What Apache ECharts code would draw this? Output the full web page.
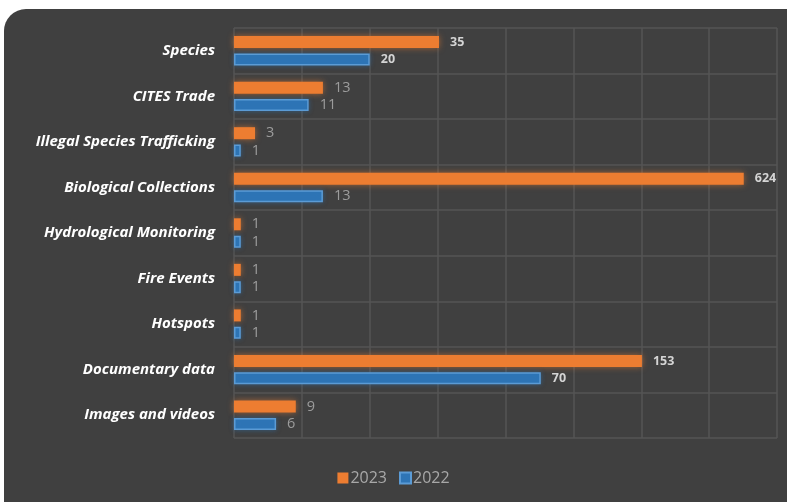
<!DOCTYPE html>
<html>
<head>
<meta charset="utf-8">
<style>
  html, body { margin: 0; padding: 0; background: #ffffff; }
  #chart { width: 787px; height: 502px; }
</style>
<script src="https://cdn.jsdelivr.net/npm/echarts@6/dist/echarts.min.js"></script>
</head>
<body>
<div id="chart"></div>
<script>
// Categories, top to bottom
const categories = [
  'Species', 'CITES Trade', 'Illegal Species Trafficking', 'Biological Collections',
  'Hydrological Monitoring', 'Fire Events', 'Hotspots', 'Documentary data', 'Images and videos'
];
const seriesNames = ['2023', '2022'];
// Values printed on the bars
const values2023 = [35, 13, 3, 624, 1, 1, 1, 153, 9];
const values2022 = [20, 11, 1, 13, 1, 1, 1, 70, 6];
// Bar lengths as drawn in the picture, in gridline units (axis is unlabelled, non-proportional)
const drawn2023 = [3.02, 1.31, 0.31, 7.51, 0.10, 0.10, 0.10, 6.01, 0.91];
const drawn2022 = [2.00, 1.10, 0.10, 1.31, 0.10, 0.10, 0.10, 4.52, 0.62];

const chart = echarts.init(document.getElementById('chart'), null, { renderer: 'canvas' });

function buildData(drawn, shown) {
  return drawn.map((d, i) => ({ value: d, shown: shown[i] }));
}

const labelCfg = {
  show: true,
  position: 'right',
  distance: 11,
  formatter: function (p) {
    const v = p.data.shown;
    return v >= 20 ? '{b|' + v + '}' : '{n|' + v + '}';
  },
  rich: {
    b: { fontFamily: 'Open Sans', fontWeight: 'bold', fontSize: 12.5, color: '#d4d4d4' },
    n: { fontFamily: 'Open Sans', fontWeight: 'normal', fontSize: 14.5, color: '#9c9c9c' }
  }
};

const option = {
  backgroundColor: 'transparent',
  animation: false,
  graphic: [{
    type: 'rect',
    z: -10,
    silent: true,
    shape: { x: 4, y: 9, width: 800, height: 510, r: [22, 10, 0, 16] },
    style: { fill: '#404040' }
  }],
  legend: {
    data: seriesNames,
    bottom: 11,
    left: 'center',
    itemWidth: 11,
    itemHeight: 11,
    itemGap: 12,
    icon: 'rect',
    textStyle: { color: '#a8a8a8', fontSize: 16, fontFamily: 'Open Sans', padding: [0, 0, 0, -3] }
  },
  grid: { left: 234, right: 10, top: 28, bottom: 64, containLabel: false },
  xAxis: {
    type: 'value',
    min: 0,
    max: 8,
    interval: 1,
    axisLabel: { show: false },
    axisLine: { show: false },
    axisTick: { show: false },
    splitLine: { show: true, lineStyle: { color: '#555555', width: 1.5 } }
  },
  yAxis: {
    type: 'category',
    inverse: true,
    data: categories,
    axisLine: { show: false },
    axisTick: { show: false },
    splitLine: { show: true, lineStyle: { color: '#555555', width: 1.5 } },
    axisLabel: {
      margin: 19,
      color: '#ffffff',
      fontFamily: 'Open Sans',
      fontStyle: 'italic',
      fontWeight: 'bold',
      fontSize: 15,
      padding: [3, 0, 0, 0]
    }
  },
  series: [
    {
      name: seriesNames[0],
      type: 'bar',
      barWidth: 12,
      barGap: '45%',
      data: buildData(drawn2023, values2023),
      itemStyle: {
        color: '#ed7d31',
        shadowColor: 'rgba(237,125,49,0.6)',
        shadowBlur: 6
      },
      label: labelCfg
    },
    {
      name: seriesNames[1],
      type: 'bar',
      barWidth: 12,
      barGap: '45%',
      data: buildData(drawn2022, values2022),
      itemStyle: {
        color: '#2e75b6',
        borderColor: '#5b9bd5',
        borderWidth: 1.5,
        shadowColor: 'rgba(46,117,182,0.5)',
        shadowBlur: 5
      },
      label: labelCfg
    }
  ]
};

chart.setOption(option);
</script>
</body>
</html>
